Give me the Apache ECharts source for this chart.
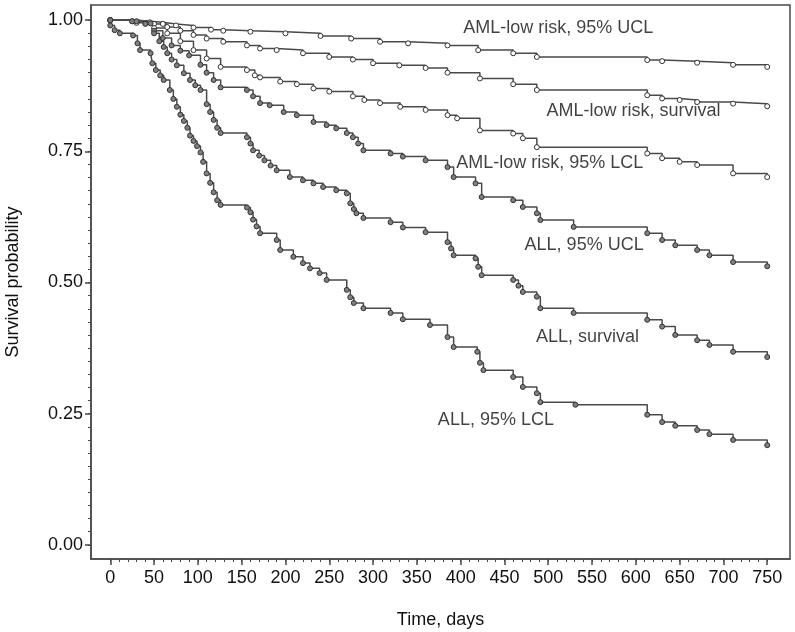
<!DOCTYPE html>
<html>
<head>
<meta charset="utf-8">
<script src="https://cdn.jsdelivr.net/npm/echarts@6/dist/echarts.min.js"></script>
<style>
  html, body { margin: 0; padding: 0; background: #fff; }
  #chart { width: 795px; height: 632px; }
</style>
</head>
<body>
<div id="chart"></div>
<script>
// step curves, [day, survival]
const amlUcl = [[0,1],[25,0.998],[45,0.996],[60,0.993],[75,0.99],[95,0.986],[115,0.982],[129,0.98],[160,0.978],[200,0.975],[240,0.97],[275,0.965],[308,0.959],[340,0.956],[385,0.952],[420,0.943],[460,0.937],[487,0.93],[613,0.924],[630,0.922],[670,0.919],[711,0.915],[750,0.911]];
const amlSurv = [[0,1],[30,0.997],[50,0.993],[65,0.987],[80,0.98],[95,0.972],[110,0.965],[129,0.959],[156,0.952],[171,0.946],[190,0.943],[220,0.937],[250,0.93],[277,0.925],[300,0.918],[330,0.914],[360,0.909],[385,0.9],[422,0.889],[460,0.878],[487,0.867],[613,0.857],[630,0.851],[650,0.848],[670,0.844],[711,0.841],[750,0.836]];
const amlLcl = [[0,1],[30,0.995],[50,0.985],[65,0.975],[80,0.96],[95,0.943],[110,0.927],[126,0.911],[156,0.905],[165,0.895],[171,0.891],[194,0.883],[213,0.878],[232,0.87],[250,0.864],[277,0.855],[290,0.848],[308,0.842],[331,0.835],[360,0.829],[385,0.819],[396,0.813],[422,0.79],[460,0.784],[471,0.775],[487,0.758],[613,0.746],[630,0.737],[650,0.73],[670,0.724],[711,0.708],[750,0.701]];
const allUcl = [[0,1],[25,0.998],[40,0.993],[50,0.98],[60,0.966],[70,0.952],[80,0.942],[90,0.933],[103,0.915],[110,0.9],[118,0.886],[126,0.872],[156,0.867],[163,0.855],[171,0.842],[182,0.838],[198,0.825],[213,0.819],[232,0.806],[247,0.8],[258,0.794],[270,0.785],[277,0.777],[283,0.765],[289,0.752],[320,0.746],[334,0.74],[360,0.733],[385,0.72],[392,0.701],[417,0.689],[424,0.663],[460,0.657],[471,0.644],[487,0.632],[491,0.619],[529,0.606],[613,0.594],[630,0.581],[645,0.571],[670,0.562],[684,0.552],[711,0.539],[750,0.531]];
const allSurv = [[0,1],[30,0.998],[46,0.994],[50,0.975],[56,0.96],[61,0.949],[65,0.937],[70,0.925],[76,0.914],[84,0.899],[91,0.886],[97,0.876],[103,0.867],[110,0.84],[114,0.825],[118,0.81],[122,0.795],[126,0.785],[156,0.777],[160,0.765],[163,0.752],[170,0.742],[176,0.733],[183,0.723],[190,0.714],[205,0.701],[220,0.695],[232,0.689],[243,0.682],[258,0.676],[270,0.67],[274,0.651],[278,0.64],[281,0.632],[289,0.623],[320,0.615],[334,0.605],[360,0.596],[385,0.577],[389,0.565],[392,0.552],[417,0.546],[420,0.53],[424,0.514],[460,0.505],[466,0.494],[471,0.482],[487,0.473],[491,0.451],[529,0.442],[613,0.429],[630,0.416],[645,0.4],[670,0.39],[684,0.381],[711,0.368],[750,0.358]];
const allLcl = [[0,0.99],[5,0.981],[11,0.975],[26,0.971],[31,0.956],[34,0.943],[46,0.937],[48,0.918],[52,0.905],[57,0.895],[61,0.886],[68,0.867],[72,0.85],[76,0.835],[80,0.82],[84,0.808],[88,0.795],[91,0.78],[95,0.77],[99,0.76],[103,0.748],[106,0.73],[110,0.708],[114,0.69],[118,0.672],[122,0.657],[126,0.648],[156,0.643],[160,0.634],[163,0.62],[167,0.607],[171,0.594],[190,0.581],[194,0.562],[209,0.549],[220,0.537],[228,0.527],[239,0.518],[247,0.505],[270,0.486],[274,0.472],[278,0.461],[289,0.451],[320,0.442],[334,0.43],[365,0.419],[385,0.396],[392,0.377],[419,0.368],[422,0.347],[426,0.333],[460,0.32],[471,0.301],[487,0.289],[491,0.272],[531,0.267],[613,0.248],[630,0.234],[645,0.227],[670,0.219],[684,0.211],[711,0.2],[750,0.19]];

const curveNames = ['AML-low risk, 95% UCL', 'AML-low risk, survival', 'AML-low risk, 95% LCL', 'ALL, 95% UCL', 'ALL, survival', 'ALL, 95% LCL'];
const xTicks = [0, 50, 100, 150, 200, 250, 300, 350, 400, 450, 500, 550, 600, 650, 700, 750];
const yTicks = [0, 0.25, 0.5, 0.75, 1];

const FONT = '"Liberation Sans", Arial, sans-serif';
const LINE = '#4a4a4a';

// minor tick positions
const xMinor = [];
for (let v = 0; v <= 750; v += 10) xMinor.push(v);
const yMinor = [];
for (let i = 0; i <= 40; i++) yMinor.push(+(i * 0.025).toFixed(3));

// where each curve's text sits (left edge, middle)
const labelAt = [[403, 0.985], [498, 0.827], [395, 0.728], [473, 0.571], [486, 0.396], [374, 0.238]];

const chart = echarts.init(document.getElementById('chart'), null, { renderer: 'canvas' });

function curve(data, fill) {
  return {
    type: 'line',
    step: 'end',
    data: data,
    xAxisIndex: 0,
    yAxisIndex: 0,
    symbol: 'circle',
    symbolSize: 5,
    showSymbol: true,
    showAllSymbol: true,
    lineStyle: { color: LINE, width: 1.5 },
    itemStyle: { color: fill, borderColor: '#333', borderWidth: 1 },
    silent: true
  };
}

const series = [
  curve(amlUcl, '#fff'),
  curve(amlSurv, '#fff'),
  curve(amlLcl, '#fff'),
  curve(allUcl, '#808080'),
  curve(allSurv, '#808080'),
  curve(allLcl, '#808080')
];

curveNames.forEach((name, i) => {
  series.push({
    type: 'scatter',
    data: [labelAt[i]],
    symbolSize: 0,
    silent: true,
    label: {
      show: true,
      position: 'right',
      distance: 0,
      formatter: name,
      fontFamily: FONT,
      fontSize: 18,
      color: '#111'
    }
  });
});

const option = {
  animation: false,
  backgroundColor: '#fff',
  grid: {
    left: 91, right: 5, top: 5, bottom: 73,
    outerBoundsMode: 'none',
    show: true, borderColor: LINE, borderWidth: 1.5, backgroundColor: 'transparent'
  },
  xAxis: [
    {
      type: 'value', min: -22, max: 776,
      name: 'Time, days', nameLocation: 'middle', nameGap: 52,
      nameTextStyle: { fontFamily: FONT, fontSize: 18, color: '#111' },
      axisLine: { show: true, onZero: false, lineStyle: { color: LINE, width: 1.5 } },
      axisTick: { show: true, customValues: xTicks, length: 6, lineStyle: { color: LINE, width: 1.5 } },
      axisLabel: { customValues: xTicks, margin: 10, fontFamily: FONT, fontSize: 18, color: '#111' },
      splitLine: { show: false }
    },
    {
      type: 'value', min: -22, max: 776, position: 'bottom',
      axisLine: { show: false, onZero: false },
      axisTick: { show: true, customValues: xMinor, length: 3, lineStyle: { color: LINE, width: 1 } },
      axisLabel: { show: false },
      splitLine: { show: false }
    }
  ],
  yAxis: [
    {
      type: 'value', min: -0.027, max: 1.029,
      name: 'Survival probability', nameLocation: 'middle', nameGap: 69,
      nameTextStyle: { fontFamily: FONT, fontSize: 18, color: '#111' },
      axisLine: { show: true, onZero: false, lineStyle: { color: LINE, width: 1.5 } },
      axisTick: { show: true, customValues: yTicks, length: 6, lineStyle: { color: LINE, width: 1.5 } },
      axisLabel: { customValues: yTicks, margin: 8, fontFamily: FONT, fontSize: 18, color: '#111',
        formatter: v => v.toFixed(2) },
      splitLine: { show: false }
    },
    {
      type: 'value', min: -0.027, max: 1.029, position: 'left',
      axisLine: { show: false, onZero: false },
      axisTick: { show: true, customValues: yMinor, length: 3, lineStyle: { color: LINE, width: 1 } },
      axisLabel: { show: false },
      splitLine: { show: false }
    }
  ],
  series: series
};

chart.setOption(option);
</script>
</body>
</html>
